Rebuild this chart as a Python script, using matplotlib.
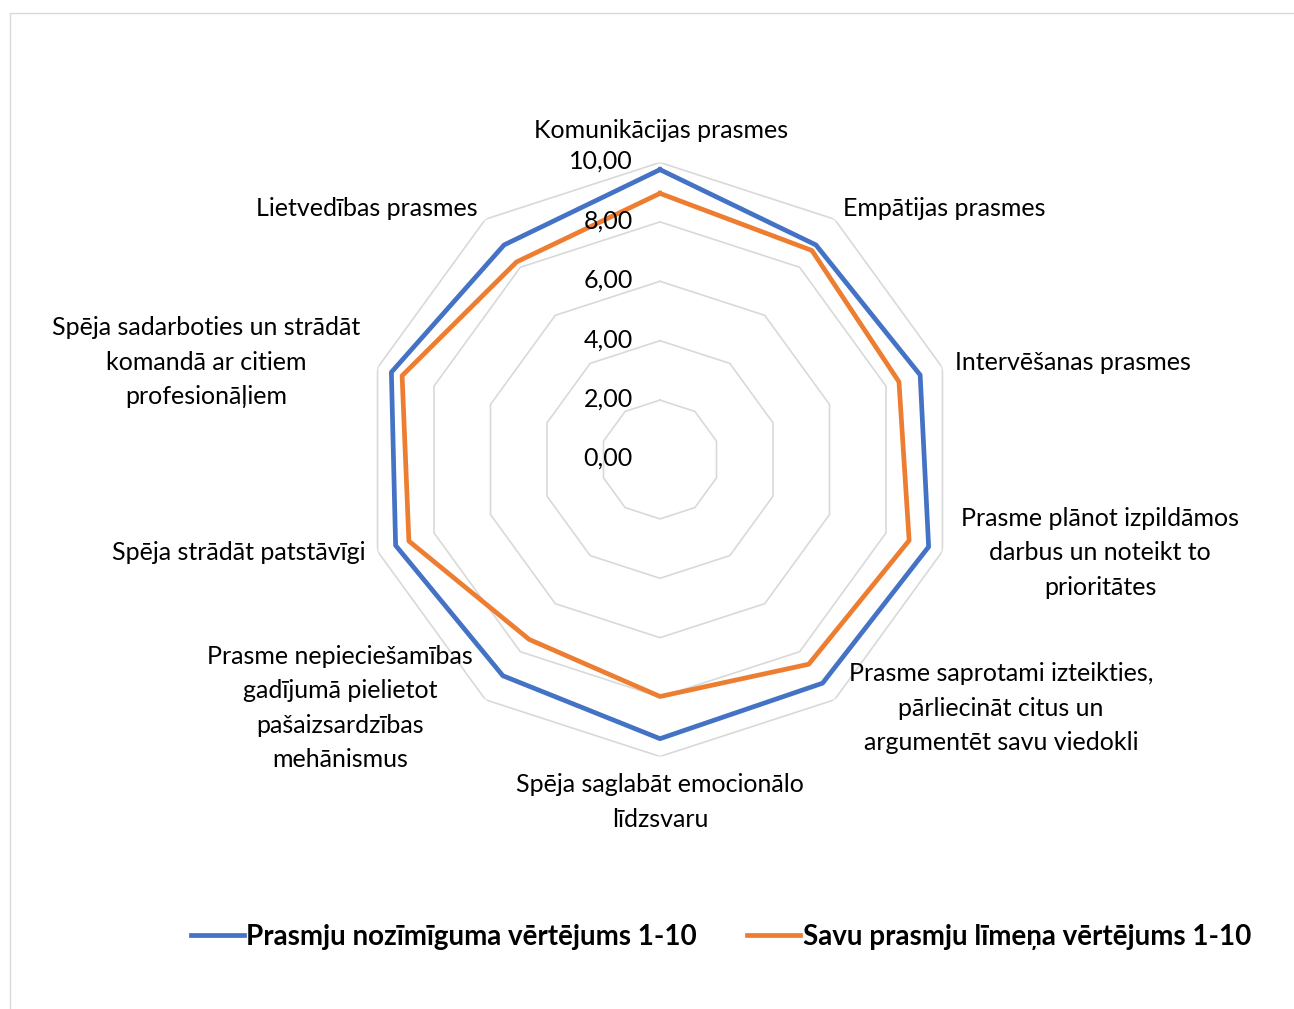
import numpy as np
import matplotlib
matplotlib.use("Agg")
import matplotlib.pyplot as plt
from matplotlib.patches import Rectangle
from matplotlib.lines import Line2D
import matplotlib.transforms as mtransforms

plt.rcParams['font.family'] = ['Lato', 'DejaVu Sans']

categories = [
    "Komunikācijas prasmes",
    "Empātijas prasmes",
    "Intervēšanas prasmes",
    "Prasme plānot izpildāmos\ndarbus un noteikt to\nprioritātes",
    "Prasme saprotami izteikties,\npārliecināt citus un\nargumentēt savu viedokli",
    "Spēja saglabāt emocionālo\nlīdzsvaru",
    "Prasme nepieciešamības\ngadījumā pielietot\npašaizsardzības\nmehānismus",
    "Spēja strādāt patstāvīgi",
    "Spēja sadarboties un strādāt\nkomandā ar citiem\nprofesionāļiem",
    "Lietvedības prasmes",
]
importance = [9.76, 8.93, 9.21, 9.51, 9.31, 9.40, 9.00, 9.36, 9.51, 8.93]
own_level = [8.96, 8.70, 8.46, 8.82, 8.52, 7.98, 7.49, 8.89, 9.13, 8.22]
ring_values = [2, 4, 6, 8, 10]
tick_values = [0, 2, 4, 6, 8, 10]
series_names = ["Prasmju nozīmīguma vērtējums 1-10", "Savu prasmju līmeņa vērtējums 1-10"]

W, H = 1294, 1009
fig = plt.figure(figsize=(W / 100, H / 100), dpi=100)

# light chart frame
fig.patches.append(Rectangle((10 / W, -0.1), 1.2, 1 - 13 / H + 0.1, transform=fig.transFigure,
                             fill=False, edgecolor="#d9d9d9", linewidth=1))

cx, cy, R = 660, 1009 - 459.5, 297
ax = fig.add_axes([(cx - R) / W, (cy - R) / H, 2 * R / W, 2 * R / H], projection="polar")
ax.set_theta_zero_location("N")
ax.set_theta_direction(-1)
ax.set_ylim(0, 10)
ax.grid(False)
ax.spines["polar"].set_visible(False)
ax.set_xticks([])
ax.set_yticks([])
ax.patch.set_alpha(0)

n = len(categories)
angles = np.linspace(0, 2 * np.pi, n, endpoint=False)
closed = np.append(angles, angles[0])

for v in ring_values:
    ax.plot(closed, [v] * (n + 1), color="#d9d9d9", linewidth=1.2, zorder=1)

ax.plot(closed, importance + importance[:1], color="#4472c4", linewidth=3.4, zorder=3)
ax.plot(closed, own_level + own_level[:1], color="#ed7d31", linewidth=3.4, zorder=4)

# radial value labels
off = mtransforms.offset_copy(ax.transData, fig=fig, x=-27, y=1, units="dots")
for v in tick_values:
    ax.text(0, v, f"{v:.2f}".replace(".", ","), transform=off, ha="right", va="center",
            fontsize=18, color="#000000", zorder=5)

# category labels (pixel positions)
label_pos = [
    (661, 130, "center"),
    (843, 208, "left"),
    (955, 362, "left"),
    (1100, 553, "center"),
    (1001, 708, "center"),
    (660, 802, "center"),
    (340, 708, "center"),
    (365, 553, "right"),
    (206, 362, "center"),
    (478, 208, "right"),
]
for text, (x, y, ha) in zip(categories, label_pos):
    fig.text(x / W, 1 - y / H, text, ha=ha, va="center", multialignment="center",
             fontsize=18, linespacing=1.6, color="#000000")

handles = [Line2D([], [], color="#4472c4", linewidth=3.4),
           Line2D([], [], color="#ed7d31", linewidth=3.4)]
fig.legend(handles, series_names, loc="center", bbox_to_anchor=(721 / W, 1 - 937 / H),
           ncol=2, frameon=False, handlelength=1.9, handletextpad=0.1, columnspacing=1.8,
           prop={"weight": "bold", "size": 20})

fig.savefig("out.png", dpi=100)
